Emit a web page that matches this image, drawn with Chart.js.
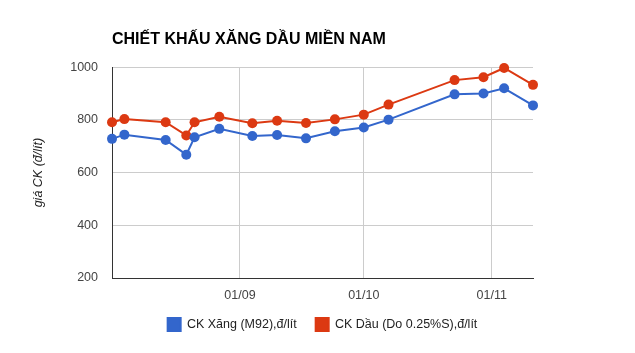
<!DOCTYPE html>
<html>
<head>
<meta charset="utf-8">
<script src="https://cdn.jsdelivr.net/npm/chart.js@4.4.1/dist/chart.umd.min.js"></script>
<style>
  html, body { margin: 0; padding: 0; background: #fff; }
  #wrap { width: 635px; height: 353px; }
</style>
</head>
<body>
<div id="wrap"><canvas id="chart"></canvas></div>
<script>
const YEAR = 2013;
const DATES = ["08-01", "08-04", "08-14", "08-19", "08-21", "08-27", "09-04", "09-10",
  "09-17", "09-24", "10-01", "10-07", "10-23", "10-30", "11-04", "11-11"];
const CK_XANG = [728, 744, 724, 668, 734, 766, 739, 743, 730, 757, 771, 801, 897, 900, 920, 855];
const CK_DAU = [791, 803, 791, 741, 791, 812, 787, 797, 788, 802, 820, 858, 951, 962, 997, 933];
const X_TICK_DATES = ["09-01", "10-01", "11-01"];
const X_TICK_LABELS = ["01/09", "01/10", "01/11"];
const Y_MIN = 200;
const Y_MAX = 1000;
const Y_STEP = 200;

const FONT = "'Liberation Sans', Arial, sans-serif";
const BLUE = "#3366cc";
const RED = "#dc3912";

function dayOf(md) {
  const [m, d] = md.split("-").map(Number);
  return (Date.UTC(YEAR, m - 1, d) - Date.UTC(YEAR, 7, 1)) / 86400000;
}

const xDays = DATES.map(dayOf);
const tickDays = X_TICK_DATES.map(dayOf);

function points(values) {
  return values.map((v, i) => ({ x: xDays[i], y: v }));
}

function series(label, values, color) {
  return {
    label,
    data: points(values),
    borderColor: color,
    backgroundColor: color,
    borderWidth: 2,
    pointRadius: 5,
    pointBorderWidth: 0,
    tension: 0,
    clip: false,
  };
}

new Chart(document.getElementById("chart"), {
  type: "line",
  data: {
    datasets: [
      series("CK Xăng (M92),đ/lít", CK_XANG, BLUE),
      series("CK Dầu (Do 0.25%S),đ/lít", CK_DAU, RED),
    ],
  },
  options: {
    responsive: true,
    maintainAspectRatio: false,
    animation: false,
    layout: { padding: { left: 0, right: 102, top: 0, bottom: 12 } },
    plugins: {
      title: {
        display: true,
        text: "CHIẾT KHẤU XĂNG DẦU MIỀN NAM",
        align: "start",
        fullSize: false,
        color: "#000",
        font: { family: FONT, size: 16, weight: "bold" },
        padding: { top: 30, bottom: 18 },
      },
      legend: {
        position: "bottom",
        fullSize: false,
        labels: {
          color: "#222",
          font: { family: FONT, size: 12.5 },
          boxWidth: 13,
          boxHeight: 13,
          padding: 19,
        },
      },
      tooltip: { enabled: false },
    },
    scales: {
      x: {
        type: "linear",
        min: xDays[0],
        max: xDays[xDays.length - 1],
        afterBuildTicks: (scale) => {
          scale.ticks = tickDays.map((v) => ({ value: v }));
        },
        afterFit: (scale) => { scale.height = 21; },
        ticks: {
          autoSkip: false,
          maxRotation: 0,
          padding: 10,
          color: "#444",
          font: { family: FONT, size: 12.5 },
          callback: (value) => X_TICK_LABELS[tickDays.indexOf(value)] || "",
        },
        grid: { color: "#cccccc", drawTicks: false },
        border: { color: "#333", width: 1 },
      },
      y: {
        min: Y_MIN,
        max: Y_MAX,
        afterFit: (scale) => { scale.width = 112; },
        ticks: {
          stepSize: Y_STEP,
          padding: 14,
          color: "#444",
          font: { family: FONT, size: 12.5 },
          callback: (value) => String(value),
        },
        grid: { color: "#cccccc", drawTicks: false },
        border: { color: "#333", width: 1 },
        title: {
          display: true,
          text: "giá CK (đ/lít)",
          color: "#222",
          font: { family: FONT, size: 12.5, style: "italic" },
          padding: { top: 31, bottom: 0 },
        },
      },
    },
  },
});
</script>
</body>
</html>
